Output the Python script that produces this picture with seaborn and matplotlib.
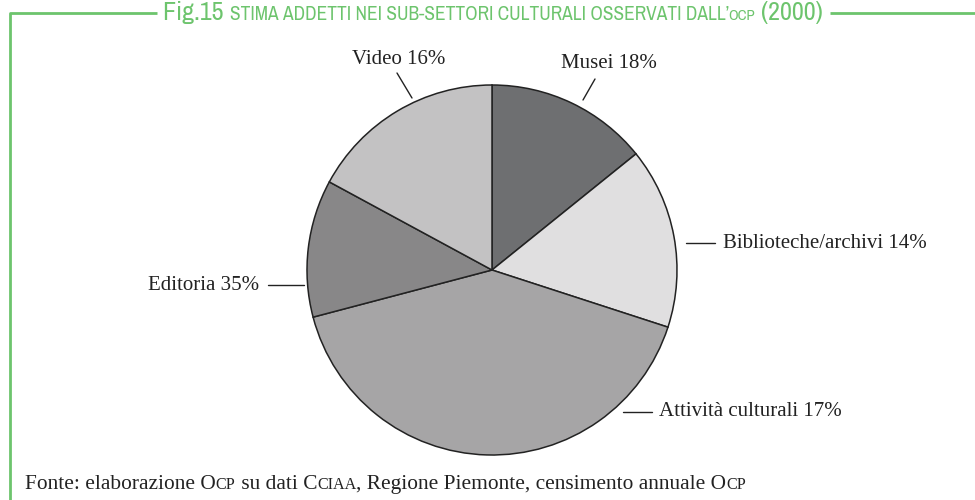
import matplotlib
matplotlib.use("Agg")
import matplotlib.pyplot as plt
from matplotlib import font_manager
import seaborn as sns

# Slice shares as drawn in the picture (clockwise from 12 o'clock)
sectors = ["Musei", "Biblioteche/archivi", "Attività culturali", "Editoria", "Video"]
drawn_share = [14.2, 15.8, 40.9, 12.0, 17.1]
# Percentages printed in the labels
label_pct = [18, 14, 17, 35, 16]

sns.set_theme(style="white")
plt.rcParams["font.family"] = ["Liberation Serif", "DejaVu Serif"]

names = sorted({f.name for f in font_manager.fontManager.ttflist})
narrow = [n for n in names if any(w in n for w in ("Condensed", "Narrow"))]

green = "#6dc46d"
grays = ["#6e6f71", "#e0dfe0", "#a6a5a6", "#888788", "#c3c2c3"]

fig = plt.figure(figsize=(9.75, 5), dpi=100)
ax = fig.add_axes([0, 0, 1, 1])

ax.pie(drawn_share, colors=grays, startangle=90, counterclock=False,
       center=(492, 230), radius=185, frame=True,
       wedgeprops=dict(edgecolor="#222222", linewidth=1.1))
ax.set_xlim(0, 975)
ax.set_ylim(0, 500)
ax.set_aspect("equal")
ax.axis("off")

labels = [f"{s} {p}%" for s, p in zip(sectors, label_pct)]
# (text x, text y, ha, line start, line end)
placements = [
    (561, 437, "left", (595, 421), (583, 400)),
    (723, 257, "left", (715, 257), (686, 257)),
    (659, 88, "left", (652, 88), (623, 88)),
    (259, 215, "right", (268, 215), (304, 215)),
    (445, 440, "right", (397, 427), (412, 402)),
]
for lab, (tx, ty, ha, p0, p1) in zip(labels, placements):
    ax.text(tx, ty, lab, ha=ha, va="center", fontsize=15, color="#222222")
    ax.plot([p0[0], p1[0]], [p0[1], p1[1]], color="#222222", lw=1)

# frame lines
ax.plot([10, 10, 157], [0, 487, 487], color=green, lw=2, solid_capstyle="butt")
ax.plot([830, 975], [487, 487], color=green, lw=2, solid_capstyle="butt")

renderer = fig.canvas.get_renderer()


def write_pieces(x, y, pieces, color, family, width=None, **kw):
    texts = []
    x0 = x
    for txt, size in pieces:
        t = fig.text(x / 975, 1 - y / 500, txt, fontsize=size, color=color,
                     family=family, va="baseline", ha="left", **kw)
        x += t.get_window_extent(renderer).width
        texts.append(t)
    if width is not None and abs((x - x0) - width) > 2:
        k = width / (x - x0)
        for t in texts:
            t.remove()
        write_pieces(x0, y, [(txt, s * k) for txt, s in pieces], color, family, None, **kw)


title_family = narrow[:1] + ["DejaVu Sans"]
write_pieces(163, 20.5, [("Fig.15 ", 15.5), ("STIMA ADDETTI NEI SUB-SETTORI CULTURALI OSSERVATI DALL\u2019", 11.5),
                         ("OCP", 9), (" (2000)", 15.5)], green, title_family, width=659,
             fontstretch="condensed")

serif = ["Liberation Serif", "DejaVu Serif"]
write_pieces(25, 489, [("Fonte: elaborazione O", 15.3), ("CP", 11.5), (" su dati C", 15.3), ("CIAA", 11.5),
                       (", Regione Piemonte, censimento annuale O", 15.3), ("CP", 11.5)], "#222222", serif,
             width=720)

fig.savefig("out.png", dpi=100)
